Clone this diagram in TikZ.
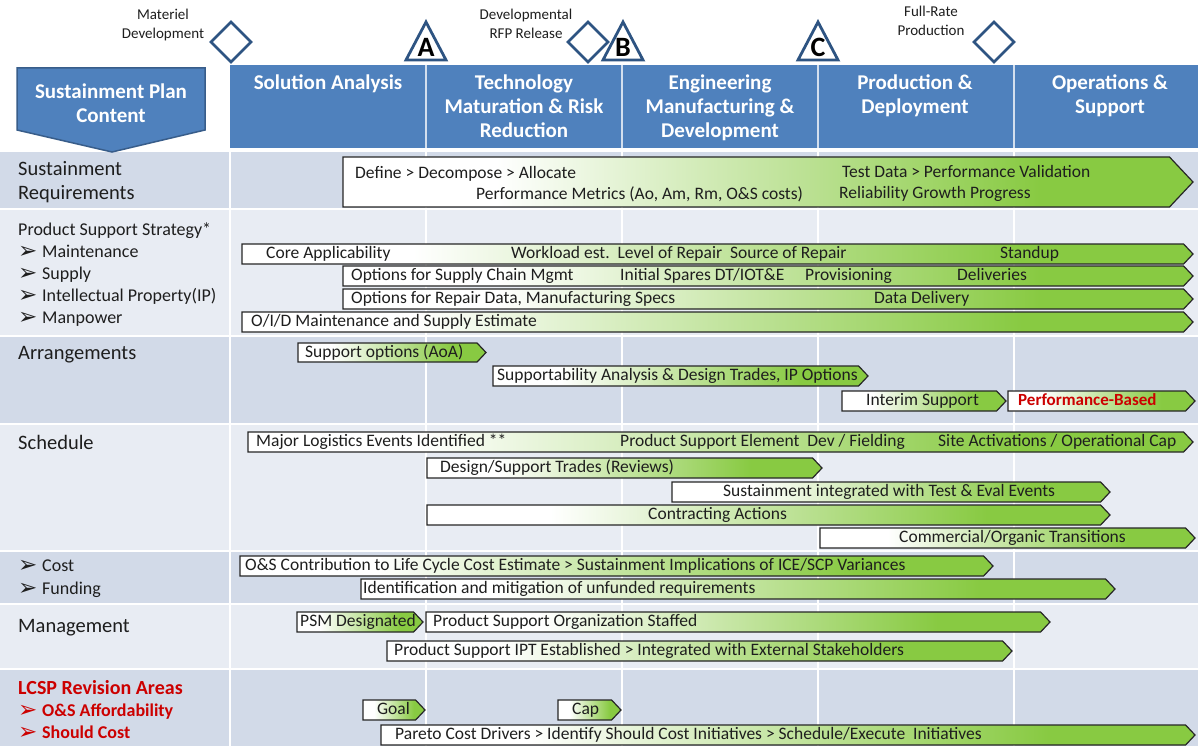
\documentclass[tikz,border=0pt]{standalone}
\usepackage{fontspec}
\setmainfont{Carlito}
\newfontfamily\symfont{DejaVu Sans}
\definecolor{hdrblue}{RGB}{79,129,189}
\definecolor{hdrborder}{RGB}{56,93,138}
\definecolor{msblue}{RGB}{46,84,130}
\definecolor{rowdark}{RGB}{210,218,232}
\definecolor{rowlight}{RGB}{232,236,243}
\definecolor{arrgreen}{RGB}{136,202,66}
\definecolor{lcspred}{RGB}{204,0,0}
\definecolor{txt}{RGB}{30,30,30}
\pgfdeclarehorizontalshading{wg}{100bp}{color(0bp)=(white); color(25bp)=(white); color(34bp)=(white); color(66bp)=(arrgreen); color(100bp)=(arrgreen)}
\newcommand{\garr}[5]{%
  \pgfmathsetmacro{\myd}{0.47*(#5-#4)}%
  \path[garrow] (#2,#4) -- ({#3-\myd},#4) -- (#3,{(#4+#5)/2}) -- ({#3-\myd},#5) -- (#2,#5) -- cycle;
  \coordinate (#1) at (#2,{(#4+#5)/2});
}
\tikzset{
  garrow/.style={shade, shading=wg, draw=black!85, line width=1.2pt, line join=miter},
  atext/.style={anchor=west, inner sep=0pt, yshift=-2.5pt, font=\fontsize{17.5}{17.5}\selectfont, text=txt, text height=0.7em, text depth=0.22em},
  lab/.style={anchor=west, inner sep=0pt, yshift=-3pt, font=\fontsize{20.5}{20.5}\selectfont, text=txt, text height=0.7em, text depth=0.22em},
  sublab/.style={lab, font=\fontsize{18}{18}\selectfont},
  redlab/.style={lab, text=lcspred, font=\fontsize{18}{18}\selectfont\bfseries},
  phase/.style={anchor=north, inner sep=0pt, align=center, text=white, font=\fontsize{21}{24}\selectfont\bfseries},
  mstext/.style={anchor=north, inner sep=0pt, align=center, text=txt, font=\fontsize{15}{19}\selectfont},
  msshape/.style={draw=msblue, fill=white, line width=2.8pt, line join=miter},
  msletter/.style={inner sep=0pt, text=black, font=\fontsize{28}{28}\selectfont\bfseries},
  rowd/.style={fill=rowdark},
  rowl/.style={fill=rowlight},
  grid/.style={draw=white, line width=1.8pt},
}
\newcommand{\bul}{\makebox[24pt][l]{\raisebox{-1pt}{\symfont\fontsize{23}{23}\selectfont ➢}}}
\begin{document}
\begin{tikzpicture}[x=1pt,y=-1pt]
\useasboundingbox (0,0) rectangle (1198,746);
\fill[white] (0,0) rectangle (1198,746);
% rows
\fill[rowd] (0,152) rectangle (1198,208);
\fill[rowl] (0,210) rectangle (1198,335);
\fill[rowd] (0,337) rectangle (1198,423);
\fill[rowl] (0,425) rectangle (1198,550);
\fill[rowd] (0,552) rectangle (1198,603);
\fill[rowl] (0,605) rectangle (1198,668);
\fill[rowd] (0,670) rectangle (1198,746);
\foreach \gx in {230,426,622,818,1014} \draw[grid] (\gx,151) -- (\gx,746);
% header
\fill[hdrblue] (230,65) rectangle (1198,148);
\foreach \gx in {426,622,818,1014} \draw[draw=white!75!hdrblue, line width=1.2pt] (\gx,65) -- (\gx,148);
\node[phase] (ph1) at (328,75) {Solution Analysis};
\node[phase] (ph2) at (524,75) {Technology\\Maturation \& Risk\\Reduction};
\node[phase] (ph3) at (720,75) {Engineering\\Manufacturing \&\\Development};
\node[phase] (ph4) at (915,75) {Production \&\\Deployment};
\node[phase] (ph5) at (1110,75) {Operations \&\\Support};
% pentagon
\draw[fill=hdrblue, draw=hdrborder, line width=1.5pt] (17,68) -- (205,68) -- (205,130) -- (112,152) -- (17,130) -- cycle;
\node[phase] (spc) at (111,84) {Sustainment Plan\\Content};
% milestones
\draw[msshape] (231,22) -- (251,42) -- (231,62) -- (211,42) -- cycle;
\node[mstext] (md) at (163,9) {Materiel\\Development};
\draw[msshape] (426,22) -- (446,60) -- (406,60) -- cycle;
\node[msletter] (mA) at (426,47) {A};
\draw[msshape] (588,22) -- (608,42) -- (588,62) -- (568,42) -- cycle;
\node[mstext] (rfp) at (526,9) {Developmental\\RFP Release};
\draw[msshape] (623,22) -- (643,60) -- (603,60) -- cycle;
\node[msletter] (mB) at (623,47) {B};
\draw[msshape] (818,22) -- (838,60) -- (798,60) -- cycle;
\node[msletter] (mC) at (818,47) {C};
\draw[msshape] (994,22) -- (1014,42) -- (994,62) -- (974,42) -- cycle;
\node[mstext] (frp) at (931,6) {Full-Rate\\Production};
% left labels
\node[lab] (l1) at (18,170) {Sustainment};
\node[lab] (l2) at (18,194) {Requirements};
\node[sublab] (l3) at (18,230) {Product Support Strategy*};
\node[sublab] (l4) at (18,252) {\bul Maintenance};
\node[sublab] (l5) at (18,274) {\bul Supply};
\node[sublab] (l6) at (18,296) {\bul Intellectual Property(IP)};
\node[sublab] (l7) at (18,318) {\bul Manpower};
\node[lab] (l8) at (18,354) {Arrangements};
\node[lab] (l9) at (18,444) {Schedule};
\node[sublab] (l10) at (18,566) {\bul Cost};
\node[sublab] (l11) at (18,589) {\bul Funding};
\node[lab] (l12) at (18,627) {Management};
\node[redlab, font=\fontsize{20}{20}\selectfont\bfseries] (l13) at (18,689) {LCSP Revision Areas};
\node[redlab] (l14) at (18,711) {\bul O\&S Affordability};
\node[redlab] (l15) at (18,733) {\bul Should Cost};
% arrows: sustainment requirements
\garr{sr}{343}{1193}{157}{207}
\node[atext] (t1) at (355,174) {Define > Decompose > Allocate};
\node[atext] (t2) at (476,195) {Performance Metrics (Ao, Am, Rm, O\&S costs)};
\node[atext] (t3) at (842,173) {Test Data > Performance Validation};
\node[atext] (t4) at (839,194) {Reliability Growth Progress};
% product support strategy
\garr{a1}{242}{1193}{244}{264}
\node[atext] (t5) at (266,254) {Core Applicability};
\node[atext] (t6) at (511,254) {Workload est.\ \ Level of Repair\ \ Source of Repair};
\node[atext] (t7) at (1000,254) {Standup};
\garr{a2}{343}{1193}{266}{286}
\node[atext] (t8) at (351,276) {Options for Supply Chain Mgmt};
\node[atext] (t9) at (620,276) {Initial Spares DT/IOT\&E};
\node[atext] (t10) at (805,276) {Provisioning};
\node[atext] (t11) at (957,276) {Deliveries};
\garr{a3}{343}{1193}{289}{309}
\node[atext] (t12) at (351,299) {Options for Repair Data, Manufacturing Specs};
\node[atext] (t13) at (874,299) {Data Delivery};
\garr{a4}{242}{1193}{312}{332}
\node[atext] (t14) at (251,322) {O/I/D Maintenance and Supply Estimate};
% arrangements
\garr{b1}{298}{486}{343}{362}
\node[atext] (t15) at (305,352.5) {Support options (AoA)};
\garr{b2}{493}{868}{366}{386}
\node[atext] (t16) at (497,376) {Supportability Analysis \& Design Trades, IP Options};
\garr{b3}{842}{1006}{391}{411}
\node[atext] (t17) at (866,401) {Interim Support};
\garr{b4}{1008}{1195}{391}{411}
\node[atext, text=lcspred, font=\fontsize{17}{17}\selectfont\bfseries] (t18) at (1018,401) {Performance-Based};
% schedule
\garr{c1}{248}{1193}{432}{452}
\node[atext] (t19) at (256,442) {Major Logistics Events Identified **};
\node[atext] (t20) at (620,442) {Product Support Element\ \ Dev / Fielding};
\node[atext] (t21) at (938,442) {Site Activations / Operational Cap};
\garr{c2}{427}{822}{458}{478}
\node[atext] (t22) at (440,468) {Design/Support Trades (Reviews)};
\garr{c3}{672}{1110}{482}{502}
\node[atext] (t23) at (723,492) {Sustainment integrated with Test \& Eval Events};
\garr{c4}{427}{1110}{505}{525}
\node[atext] (t24) at (648,515) {Contracting Actions};
\garr{c5}{820}{1195}{528}{548}
\node[atext] (t25) at (899,538) {Commercial/Organic Transitions};
% cost
\garr{d1}{240}{993}{556}{576}
\node[atext] (t26) at (245,566) {O\&S Contribution to Life Cycle Cost Estimate > Sustainment Implications of ICE/SCP Variances};
\garr{d2}{361}{1115}{579}{599}
\node[atext] (t27) at (363,589) {Identification and mitigation of unfunded requirements};
% management
\garr{e1}{297}{423}{612}{632}
\node[atext] (t28) at (300,622) {PSM Designated};
\garr{e2}{426}{1050}{612}{632}
\node[atext] (t29) at (433,622) {Product Support Organization Staffed};
\garr{e3}{387}{1012}{641}{661}
\node[atext] (t30) at (394,651) {Product Support IPT Established > Integrated with External Stakeholders};
% LCSP
\garr{f1}{363}{425}{700}{720}
\node[atext] (t31) at (377,710) {Goal};
\garr{f2}{558}{621}{700}{720}
\node[atext] (t32) at (572,710) {Cap};
\garr{f3}{381}{1195}{725}{745}
\node[atext] (t33) at (395,735) {Pareto Cost Drivers > Identify Should Cost Initiatives > Schedule/Execute\ \ Initiatives};
\end{tikzpicture}
\end{document}
